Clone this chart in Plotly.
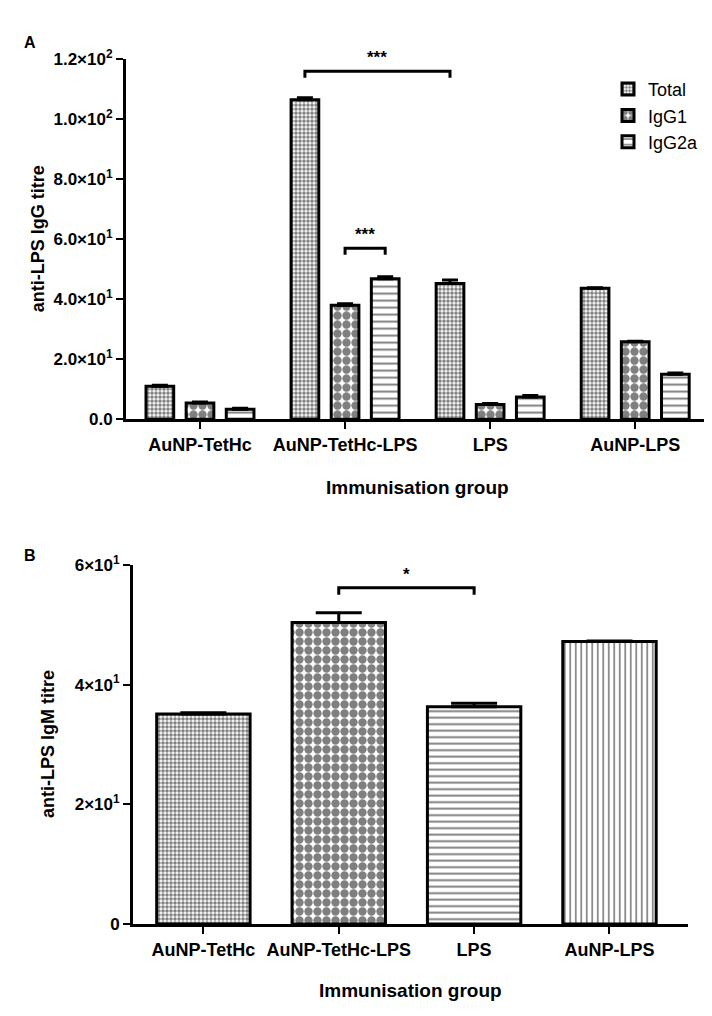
import plotly.graph_objects as go

# ---------------- data ----------------
groups = ["AuNP-TetHc", "AuNP-TetHc-LPS", "LPS", "AuNP-LPS"]

igg_series = ["Total", "IgG1", "IgG2a"]
igg_total = [11.0, 106.5, 45.2, 43.6]
igg_total_err = [0.3, 0.6, 1.2, 0.2]
igg_g1 = [5.4, 38.0, 4.9, 25.8]
igg_g1_err = [0.3, 0.5, 0.3, 0.2]
igg_g2a = [3.3, 46.8, 7.4, 15.0]
igg_g2a_err = [0.3, 0.7, 0.5, 0.4]

igm = [35.1, 50.4, 36.3, 47.2]
igm_err = [0.2, 1.6, 0.6, 0.1]

igg_ticks = [0, 20, 40, 60, 80, 100, 120]
igg_ticktext = ["0.0", "2.0×10<sup>1</sup>", "4.0×10<sup>1</sup>", "6.0×10<sup>1</sup>",
                "8.0×10<sup>1</sup>", "1.0×10<sup>2</sup>", "1.2×10<sup>2</sup>"]
igm_ticks = [0, 20, 40, 60]
igm_ticktext = ["0", "2×10<sup>1</sup>", "4×10<sup>1</sup>", "6×10<sup>1</sup>"]

# significance brackets: (group a, series a, group b, series b, y level, label)
sig_igg = [(1, 0, 2, 0, 116.0, "***"), (1, 1, 1, 2, 57.0, "***")]
sig_igm = [(1, 2, 56.2, "*")]

# ---------------- figure ----------------
W, H = 712, 1016
FONT = "Liberation Sans, Arial, sans-serif"
fig = go.Figure()

BARGAP_A = 0.17
slot = (1 - BARGAP_A) / 3

patterns = [dict(shape=".", size=4, solidity=0.62, fgcolor="black", bgcolor="white"),
            dict(shape=".", size=9, solidity=0.68, fgcolor="black", bgcolor="white"),
            dict(shape="-", size=7, solidity=0.28, fgcolor="black", bgcolor="white")]
vals = [igg_total, igg_g1, igg_g2a]
errs = [igg_total_err, igg_g1_err, igg_g2a_err]
for i, name in enumerate(igg_series):
    fig.add_trace(go.Bar(
        x=groups, y=vals[i], name=name, xaxis="x", yaxis="y",
        marker=dict(color="white", line=dict(color="black", width=3), pattern=patterns[i]),
        error_y=dict(type="data", array=errs[i], arrayminus=[0] * len(groups),
                     symmetric=False, color="black", thickness=3, width=8),
        showlegend=True))

fig.add_trace(go.Bar(
    x=groups, y=igm, name="IgM", xaxis="x2", yaxis="y2", showlegend=False, width=0.69,
    marker=dict(color="white", line=dict(color="black", width=3),
                pattern=dict(shape=[".", ".", "-", "|"], size=[4, 9, 6.5, 5.5],
                             solidity=[0.62, 0.68, 0.3, 0.3], fgcolor="black", bgcolor="white")),
    error_y=dict(type="data", array=igm_err, arrayminus=[0] * len(groups),
                 symmetric=False, color="black", thickness=3, width=23)))

# positions of plot areas (pixels)
A = dict(l=118, r=707, t=40, b=408)
B = dict(l=125, r=680, t=557, b=924)

def dom_x(p):
    return [p["l"] / W, p["r"] / W]

def dom_y(p):
    return [1 - p["b"] / H, 1 - p["t"] / H]

axis_common = dict(showline=True, linecolor="black", linewidth=3, ticks="outside",
                   tickcolor="black", tickwidth=2, ticklen=7, showgrid=False, zeroline=False)
xfont = dict(tickfont=dict(family=FONT, size=18, color="black", weight="bold"))
yfont = dict(tickfont=dict(family=FONT, size=17, color="black", weight="bold"))

fig.update_layout(
    width=W, height=H, margin=dict(l=0, r=0, t=0, b=0),
    paper_bgcolor="white", plot_bgcolor="white",
    barmode="group", bargap=BARGAP_A, bargroupgap=0.31,
    xaxis=dict(domain=dom_x(A), anchor="y", range=[-0.51, 3.55], **axis_common, **xfont),
    yaxis=dict(domain=dom_y(A), anchor="x", range=[0, 120], tickvals=igg_ticks,
               ticktext=igg_ticktext, **axis_common, **yfont),
    xaxis2=dict(domain=dom_x(B), anchor="y2", range=[-0.52, 3.58], **axis_common, **xfont),
    yaxis2=dict(domain=dom_y(B), anchor="x2", range=[0, 60], tickvals=igm_ticks,
                ticktext=igm_ticktext, **axis_common, **yfont),
    legend=dict(x=600 / W, y=1 - 52 / H, xanchor="left", yanchor="top",
                font=dict(family=FONT, size=18, color="black"), itemwidth=30,
                bgcolor="rgba(0,0,0,0)", tracegroupgap=0),
    font=dict(family=FONT, color="black"),
)

bold = dict(family=FONT, color="black", weight="bold")
ann = []
ann.append(dict(text="A", x=22 / W, y=1 - 23 / H, xref="paper", yref="paper", showarrow=False,
                xanchor="center", yanchor="middle", font=dict(size=16, **bold)))
ann.append(dict(text="B", x=22 / W, y=1 - 547 / H, xref="paper", yref="paper", showarrow=False,
                xanchor="center", yanchor="middle", font=dict(size=16, **bold)))
ann.append(dict(text="anti-LPS IgG titre", x=30 / W, y=1 - 224 / H, xref="paper", yref="paper",
                showarrow=False, textangle=-90, xanchor="center", yanchor="middle",
                font=dict(size=18, **bold)))
ann.append(dict(text="anti-LPS IgM titre", x=40 / W, y=1 - 740 / H, xref="paper", yref="paper",
                showarrow=False, textangle=-90, xanchor="center", yanchor="middle",
                font=dict(size=18, **bold)))
ann.append(dict(text="Immunisation group", x=409 / W, y=1 - 478 / H, xref="paper", yref="paper",
                showarrow=False, xanchor="center", yanchor="middle", font=dict(size=19, **bold)))
ann.append(dict(text="Immunisation group", x=402 / W, y=1 - 992 / H, xref="paper", yref="paper",
                showarrow=False, xanchor="center", yanchor="middle", font=dict(size=19, **bold)))

shapes = []
def offset(s):
    return -(1 - BARGAP_A) / 2 + (s + 0.5) * slot

for ga, sa, gb, sb, yv, lab in sig_igg:
    x0 = ga + offset(sa)
    x1 = gb + offset(sb)
    drop = 2.2
    shapes.append(dict(type="path", xref="x", yref="y",
                       path=f"M{x0},{yv - drop} L{x0},{yv} L{x1},{yv} L{x1},{yv - drop}",
                       line=dict(color="black", width=3)))
    ann.append(dict(text=lab, x=(x0 + x1) / 2, y=yv, xref="x", yref="y", yanchor="bottom",
                    showarrow=False, yshift=2, font=dict(size=17, **bold)))

for ga, gb, yv, lab in sig_igm:
    drop = 1.2
    shapes.append(dict(type="path", xref="x2", yref="y2",
                       path=f"M{ga},{yv - drop} L{ga},{yv} L{gb},{yv} L{gb},{yv - drop}",
                       line=dict(color="black", width=3)))
    ann.append(dict(text=lab, x=(ga + gb) / 2, y=yv, xref="x2", yref="y2", yanchor="bottom",
                    showarrow=False, yshift=2, font=dict(size=17, **bold)))

fig.update_layout(annotations=ann, shapes=shapes)
fig.write_html("out.html")
